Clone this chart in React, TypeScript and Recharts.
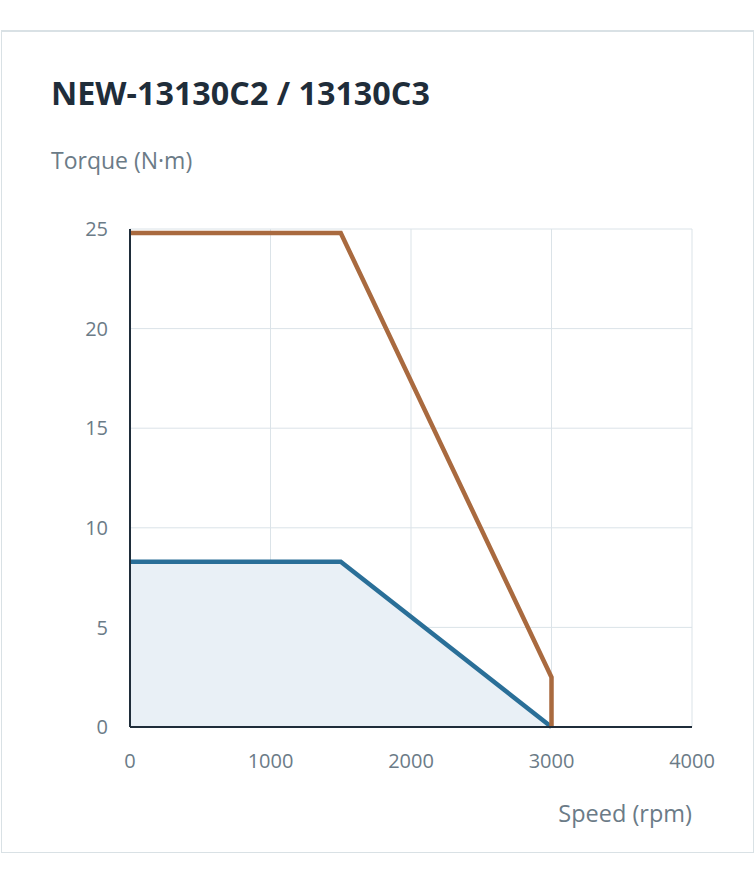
import React from 'react'
import {
  ComposedChart,
  Area,
  Line,
  XAxis,
  YAxis,
  CartesianGrid,
} from 'recharts'

// speed points (rpm) shared by both curves
const speed = [0, 1500, 3000, 3000]
// peak torque (orange) and rated torque (blue), N·m
const peakTorque = [24.8, 24.8, 2.5, 0]
const ratedTorque = [8.3, 8.3, 0, 0]

const xTicks = [0, 1000, 2000, 3000, 4000]
const yTicks = [0, 5, 10, 15, 20, 25]

const chartData = speed.map((s, i) => ({
  speed: s,
  peak: peakTorque[i],
  rated: ratedTorque[i],
}))

const FONT = '"Open Sans", "Noto Sans", sans-serif'
const TEXT_GRAY = '#6b7b87'
const DARK = '#1f2d3a'

export default function App() {
  return (
    <div
      style={{
        position: 'absolute',
        left: 0,
        top: 0,
        width: 755,
        height: 875,
        background: '#fff',
        fontFamily: FONT,
      }}
    >
      {/* card frame */}
      <div
        style={{
          position: 'absolute',
          left: 1,
          top: 30,
          width: 751,
          height: 820,
          border: '1px solid #d9e1e5',
          borderTop: '2px solid #d9e1e5',
        }}
      />
      <div
        style={{
          position: 'absolute',
          left: 51,
          top: 72,
          fontSize: 32.3,
          fontWeight: 700,
          color: DARK,
          lineHeight: '40px',
        }}
      >
        NEW-13130C2 / 13130C3
      </div>
      <div
        style={{
          position: 'absolute',
          left: 51,
          top: 145,
          fontSize: 23,
          color: TEXT_GRAY,
          lineHeight: '30px',
        }}
      >
        Torque (N·m)
      </div>
      <div
        style={{
          position: 'absolute',
          right: 755 - 692,
          top: 798,
          fontSize: 23.5,
          color: TEXT_GRAY,
          lineHeight: '30px',
        }}
      >
        Speed (rpm)
      </div>

      <div style={{ position: 'absolute', left: 0, top: 0 }}>
        <ComposedChart
          width={755}
          height={875}
          data={chartData}
          margin={{ top: 229, right: 63, bottom: 98, left: 70 }}
        >
          <CartesianGrid stroke="#dbe3e8" strokeWidth={1} />
          <XAxis
            dataKey="speed"
            type="number"
            domain={[0, 4000]}
            ticks={xTicks}
            height={50}
            tickLine={false}
            tickSize={6}
            tickMargin={21}
            axisLine={{ stroke: DARK, strokeWidth: 2 }}
            tick={{ fontSize: 20, fill: TEXT_GRAY, fontFamily: FONT }}
          />
          <YAxis
            type="number"
            domain={[0, 25]}
            ticks={yTicks}
            width={60}
            tickLine={false}
            tickSize={6}
            tickMargin={16}
            axisLine={{ stroke: DARK, strokeWidth: 2 }}
            tick={{ fontSize: 20, fill: TEXT_GRAY, fontFamily: FONT }}
          />
          <Area
            dataKey="rated"
            type="linear"
            stroke="#2a6f98"
            strokeWidth={4.5}
            fill="#e9f0f6"
            fillOpacity={1}
            dot={false}
            activeDot={false}
            isAnimationActive={false}
          />
          <Line
            dataKey="peak"
            type="linear"
            stroke="#a96a3f"
            strokeWidth={4.5}
            dot={false}
            activeDot={false}
            isAnimationActive={false}
          />
        </ComposedChart>
      </div>
    </div>
  )
}
